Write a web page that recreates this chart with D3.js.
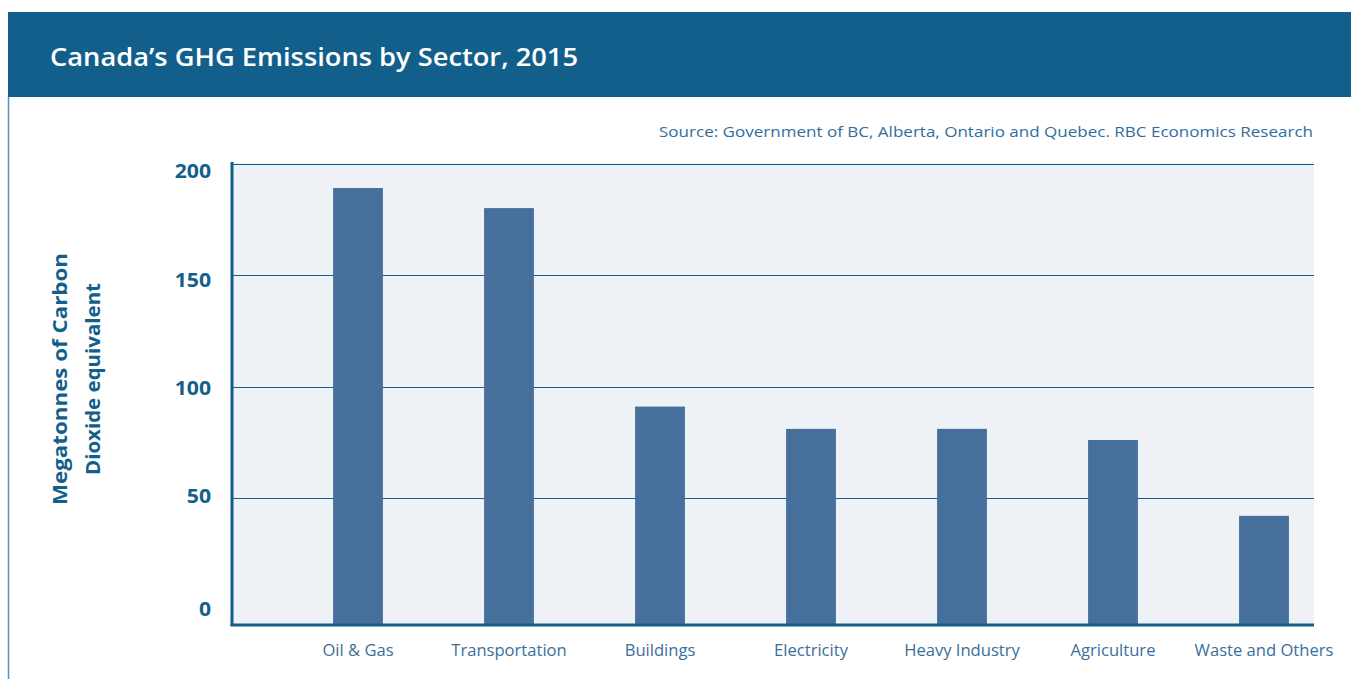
<!DOCTYPE html>
<html>
<head>
<meta charset="utf-8">
<script src="https://cdn.jsdelivr.net/npm/d3@7"></script>
<style>
  html, body { margin: 0; padding: 0; background: #fff; }
  svg { display: block; }
</style>
</head>
<body>
<svg id="chart"></svg>
<script>
// data
var sectors = ["Oil & Gas", "Transportation", "Buildings", "Electricity", "Heavy Industry", "Agriculture", "Waste and Others"];
var emissions = [189, 180, 91, 81, 81, 76, 42];
var yTicks = [0, 50, 100, 150, 200];

var W = 1351, H = 679;
var blue = "#135f8c";
var font = "'Open Sans', sans-serif";

var svg = d3.select("#chart").attr("width", W).attr("height", H);

// stretch text a little, the original face is wider than Open Sans
var widen = function(sel, k) {
  sel.each(function() {
    var len = this.getComputedTextLength();
    d3.select(this).attr("textLength", len * k).attr("lengthAdjust", "spacingAndGlyphs");
  });
};

// header band + left frame line
svg.append("rect").attr("x", 8).attr("y", 12).attr("width", W - 8).attr("height", 85).attr("fill", blue);
svg.append("line").attr("x1", 8.5).attr("x2", 8.5).attr("y1", 97).attr("y2", H)
  .attr("stroke", "#5a90bd").attr("stroke-width", 1.5);

svg.append("text").attr("x", 50).attr("y", 66)
  .attr("fill", "#fff").attr("font-family", font)
  .attr("font-weight", 600).attr("font-size", 24.5)
  .attr("textLength", 528).attr("lengthAdjust", "spacingAndGlyphs")
  .text("Canada\u2019s GHG Emissions by Sector, 2015");

svg.append("text").attr("x", 1313).attr("y", 137).attr("text-anchor", "end")
  .attr("fill", "#2f6d9c").attr("font-family", font)
  .attr("font-size", 15)
  .attr("textLength", 654).attr("lengthAdjust", "spacingAndGlyphs")
  .text("Source: Government of BC, Alberta, Ontario and Quebec. RBC Economics Research");

// plot geometry
var plotL = 232, plotR = 1314, plotT = 163, plotB = 625;

var y = d3.scaleLinear().domain([0, 200]).range([609.5, 163.5]);
var x = d3.scaleBand().domain(sectors).range([282.5, 1339.5]).paddingInner(0.67).paddingOuter(0.335);

svg.append("rect").attr("x", plotL).attr("y", plotT).attr("width", plotR - plotL).attr("height", plotB - plotT)
  .attr("fill", "#eef2f7");

// gridlines
svg.append("g").selectAll("line").data(yTicks.filter(function(t){ return t > 0; })).join("line")
  .attr("x1", plotL).attr("x2", plotR)
  .attr("y1", function(d){ return Math.round(y(d)) + 0.5; })
  .attr("y2", function(d){ return Math.round(y(d)) + 0.5; })
  .attr("stroke", blue).attr("stroke-width", 1);

// bars
svg.append("g").selectAll("rect").data(emissions).join("rect")
  .attr("x", function(d, i){ return x(sectors[i]); })
  .attr("width", x.bandwidth())
  .attr("y", function(d){ return y(d); })
  .attr("height", function(d){ return plotB + 1 - y(d); })
  .attr("fill", "#46709b");

// axes lines
svg.append("line").attr("x1", plotL).attr("x2", plotL).attr("y1", plotT - 1).attr("y2", plotB + 1)
  .attr("stroke", blue).attr("stroke-width", 3);
svg.append("line").attr("x1", plotL - 1.5).attr("x2", plotR).attr("y1", plotB).attr("y2", plotB)
  .attr("stroke", blue).attr("stroke-width", 3);

// y tick labels
var yAxis = d3.axisLeft(y).tickValues(yTicks).tickSize(0).tickPadding(0);
var gy = svg.append("g").attr("transform", "translate(211,0)").call(yAxis);
gy.select(".domain").remove();
gy.selectAll("text").attr("fill", blue).attr("font-family", font)
  .attr("font-weight", 700).attr("font-size", 20).attr("dy", "0.32em");
// labels sit slightly lower than their gridline
gy.selectAll(".tick text").attr("y", function(d){ return [0, -1.5, 2, 5, 7.5][yTicks.indexOf(d)]; });
widen(gy.selectAll(".tick text"), 1.06);

// x labels
var xAxis = d3.axisBottom(x).tickSize(0).tickPadding(0);
var gx = svg.append("g").attr("transform", "translate(0,645)").call(xAxis);
gx.select(".domain").remove();
gx.selectAll("text").attr("fill", "#3a6f9a").attr("font-family", font)
  .attr("font-size", 15.5).attr("dy", "0.71em");
widen(gx.selectAll(".tick text"), 1.07);

// y axis title
var yt = svg.append("text").attr("transform", "translate(0,379) rotate(-90)")
  .attr("text-anchor", "middle").attr("fill", blue)
  .attr("font-family", font).attr("font-weight", 700).attr("font-size", 19.5);
yt.append("tspan").attr("x", 0).attr("y", 67).attr("textLength", 252).attr("lengthAdjust", "spacingAndGlyphs").text("Megatonnes of Carbon");
yt.append("tspan").attr("x", 0).attr("y", 100).attr("textLength", 192).attr("lengthAdjust", "spacingAndGlyphs").text("Dioxide equivalent");
</script>
</body>
</html>
